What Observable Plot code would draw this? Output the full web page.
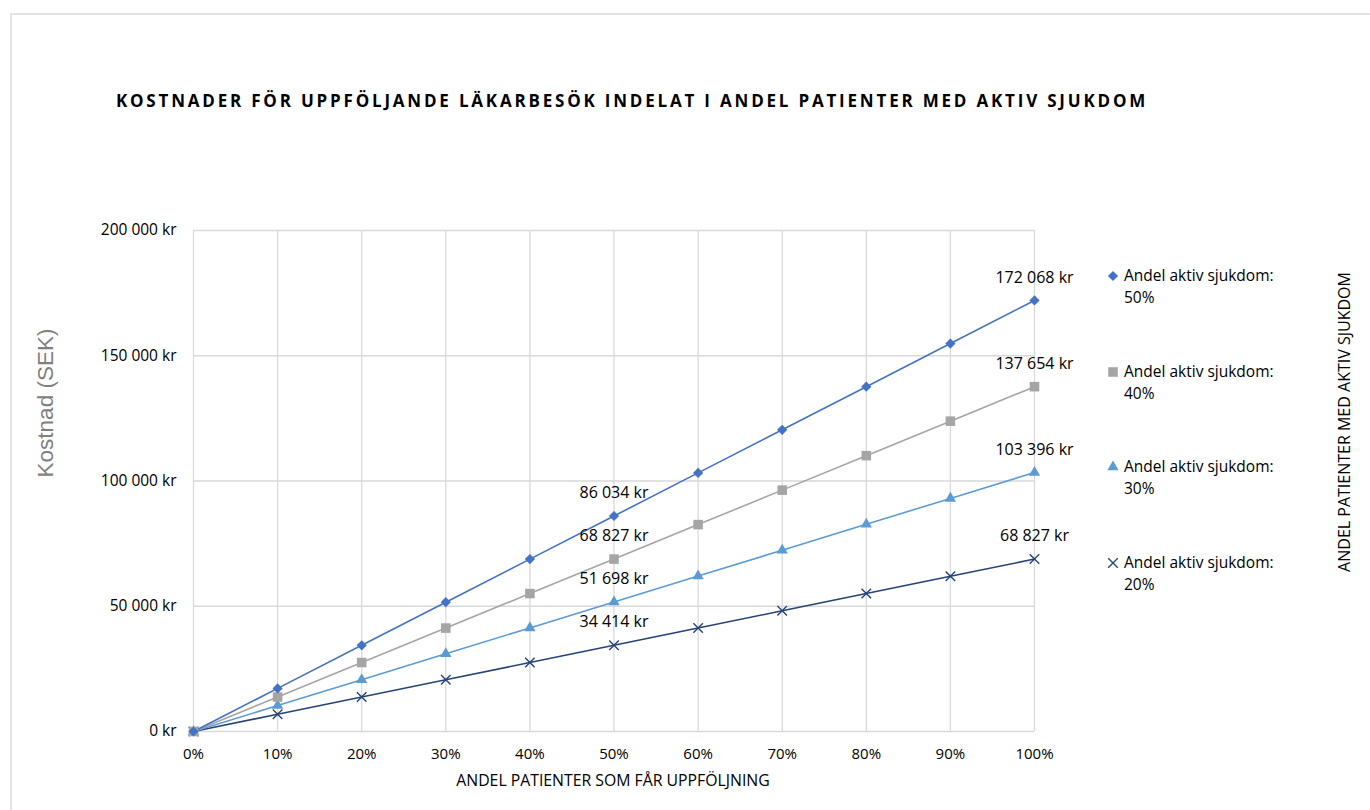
<!DOCTYPE html>
<html>
<head>
<meta charset="utf-8">
<script src="https://cdn.jsdelivr.net/npm/d3@7"></script>
<script src="https://cdn.jsdelivr.net/npm/@observablehq/plot@0.6"></script>
<style>
  html, body { margin: 0; padding: 0; background: #fff; }
  #wrap { position: relative; width: 1370px; height: 810px; overflow: hidden; font-family: "Open Sans", sans-serif; }
  #frame { position: absolute; left: 10px; top: 13px; width: 1500px; height: 1000px; border: 2px solid #e3e3e3; box-sizing: border-box; }
  #title { position: absolute; left: 0; width: 1264px; top: 89px; text-align: center; font-weight: bold; font-size: 17px; letter-spacing: 2.8px; color: #000; white-space: nowrap; }
  #ylab { position: absolute; left: 46px; top: 403px; transform: translate(-50%, -50%) rotate(-90deg); font-family: "Liberation Sans", Arial, sans-serif; font-size: 22.5px; color: #808080; white-space: nowrap; }
  #xlab { position: absolute; left: 613px; top: 780px; transform: translate(-50%, -50%); font-size: 15.8px; color: #000; white-space: nowrap; }
  #rlab { position: absolute; left: 1344px; top: 422px; transform: translate(-50%, -50%) rotate(-90deg); font-size: 16px; color: #000; white-space: nowrap; }
  .leg { position: absolute; left: 1106px; font-size: 15.5px; line-height: 22px; color: #000; }
  .leg svg { position: absolute; left: 0; top: 5px; }
  .leg span { display: block; padding-left: 18px; }
  #plot { position: absolute; left: 0; top: 0; }
</style>
</head>
<body>
<div id="wrap">
  <div id="frame"></div>
  <div id="plot"></div>
  <div id="title">KOSTNADER FÖR UPPFÖLJANDE LÄKARBESÖK INDELAT I ANDEL PATIENTER MED AKTIV SJUKDOM</div>
  <div id="ylab">Kostnad (SEK)</div>
  <div id="xlab">ANDEL PATIENTER SOM FÅR UPPFÖLJNING</div>
  <div id="rlab">ANDEL PATIENTER MED AKTIV SJUKDOM</div>
  <div id="legend"></div>
</div>
<script>
// Data
const andelUppfoljning = [0, 0.1, 0.2, 0.3, 0.4, 0.5, 0.6, 0.7, 0.8, 0.9, 1.0];
const seriesNames = ["Andel aktiv sjukdom: 50%", "Andel aktiv sjukdom: 40%", "Andel aktiv sjukdom: 30%", "Andel aktiv sjukdom: 20%"];
const aktiv50 = [0, 17207, 34414, 51620, 68827, 86034, 103241, 120448, 137654, 154861, 172068];
const aktiv40 = [0, 13765, 27531, 41296, 55062, 68827, 82592, 96358, 110123, 123889, 137654];
const aktiv30 = [0, 10340, 20679, 31019, 41358, 51698, 62038, 72377, 82717, 93056, 103396];
const aktiv20 = [0, 6883, 13765, 20648, 27531, 34414, 41296, 48179, 55062, 61944, 68827];
const yTicks = [0, 50000, 100000, 150000, 200000];
const xTicks = [0, 0.1, 0.2, 0.3, 0.4, 0.5, 0.6, 0.7, 0.8, 0.9, 1.0];
const labelAt = [0.5, 1.0];

const colors = ["#4472c4", "#a5a5a5", "#5b9bd5", "#264478"];
const symbols = ["diamond2", "square", "triangle", "times"];
const radii = [4.6, 5.4, 4.2, 4.4];
const allValues = [aktiv50, aktiv40, aktiv30, aktiv20];

const rows = [];
seriesNames.forEach((s, i) => {
  andelUppfoljning.forEach((x, j) => rows.push({series: s, idx: i, x, y: allValues[i][j]}));
});

const fmtKr = v => d3.format(",")(v).replace(/,/g, " ") + " kr";

const W = 1370, H = 810;
const ml = 193, mr = W - 1034, mt = 230, mb = H - 731;

const marks = [
  Plot.gridX(xTicks, {stroke: "#d9d9d9", strokeOpacity: 1, strokeWidth: 1.3}),
  Plot.gridY(yTicks, {stroke: "#d9d9d9", strokeOpacity: 1, strokeWidth: 1.3}),
  Plot.axisX(xTicks, {tickSize: 0, tickPadding: 17, tickFormat: d => Math.round(d * 100) + "%", fontSize: 15, label: null}),
  Plot.axisY(yTicks, {tickSize: 0, tickPadding: 17, tickFormat: fmtKr, fontSize: 15.5, label: null}),
];
// draw in reverse so 50% on top
[3, 2, 1, 0].forEach(i => {
  const d = rows.filter(r => r.idx === i);
  marks.push(Plot.line(d, {x: "x", y: "y", stroke: colors[i], strokeWidth: 1.6}));
});
[3, 2, 1, 0].forEach(i => {
  const d = rows.filter(r => r.idx === i);
  const filledSym = symbols[i] !== "times";
  marks.push(Plot.dot(d, {x: "x", y: "y", symbol: () => symbols[i], r: radii[i],
    fill: filledSym ? colors[i] : "none", stroke: colors[i], strokeWidth: filledSym ? 0 : 1.4}));
});
marks.push(Plot.text(rows.filter(r => labelAt.includes(r.x)), {
  x: "x", y: "y", text: d => fmtKr(d.y), dy: -23, fontSize: 16, fill: "#000"
}));

const chart = Plot.plot({
  width: W, height: H,
  marginLeft: ml, marginRight: mr, marginTop: mt, marginBottom: mb,
  x: {domain: [0, 1]},
  y: {domain: [0, 200000]},
  style: {fontFamily: "'Open Sans', sans-serif", color: "#000", background: "transparent", overflow: "visible"},
  marks
});
document.getElementById("plot").appendChild(chart);

// Legend
const legTops = [264, 360, 455, 551];
const leg = document.getElementById("legend");
seriesNames.forEach((s, i) => {
  const div = document.createElement("div");
  div.className = "leg";
  div.style.top = legTops[i] + "px";
  const [a, b] = s.split(": ");
  const sym = d3.symbol().type({diamond2: d3.symbolDiamond2, square: d3.symbolSquare, triangle: d3.symbolTriangle, times: d3.symbolTimes}[symbols[i]]).size(radii[i] * radii[i] * Math.PI)();
  const filledSym = symbols[i] !== "times";
  div.innerHTML = `<svg width="14" height="14" viewBox="-7 -7 14 14"><path d="${sym}" fill="${filledSym ? colors[i] : "none"}" stroke="${colors[i]}" stroke-width="${filledSym ? 0 : 1.4}"/></svg><span>${a}:</span><span>${b}</span>`;
  leg.appendChild(div);
});
</script>
</body>
</html>
